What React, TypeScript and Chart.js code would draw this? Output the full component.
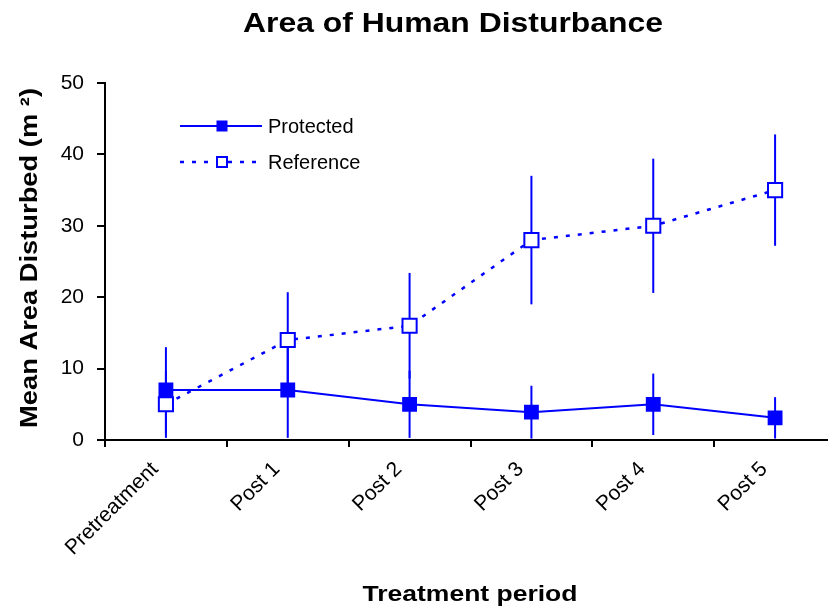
import React, { useEffect, useRef } from 'react';
import { Chart, registerables } from 'chart.js';

Chart.register(...registerables);

const categories = ['Pretreatment', 'Post 1', 'Post 2', 'Post 3', 'Post 4', 'Post 5'];
const protectedMean = [7, 7, 5, 3.9, 5, 3.1];
const protectedErr = [6, 6.7, 4.7, 3.7, 4.3, 2.9];
const referenceMean = [5, 14, 16, 28, 30, 35];
const referenceErr = [4.7, 6.7, 7.4, 9, 9.4, 7.8];
const yMin = 0;
const yMax = 50;
const yStep = 10;

const chartTitle = 'Area of Human Disturbance';
const xTitle = 'Treatment period';
const yTitle = 'Mean Area Disturbed (m \u00B2)';
const seriesNames = ['Protected', 'Reference'];

const BLUE = '#0000FF';
const FONT = '"Liberation Sans", Arial, Helvetica, sans-serif';

function drawStretched(ctx: CanvasRenderingContext2D, text: string, x: number, y: number, rot: number, font: string, targetWidth: number) {
  ctx.save();
  ctx.font = font;
  ctx.fillStyle = '#000';
  ctx.textAlign = 'center';
  ctx.textBaseline = 'alphabetic';
  const w = ctx.measureText(text).width;
  const s = targetWidth / w;
  ctx.translate(x, y);
  ctx.rotate(rot);
  ctx.scale(s, 1);
  ctx.fillText(text, 0, 0);
  ctx.restore();
}

const errorBarPlugin = {
  id: 'errorBars',
  beforeDatasetsDraw(chart: any) {
    const ctx = chart.ctx;
    const xs = chart.scales.x;
    const ys = chart.scales.y;
    const sets = [
      { m: protectedMean, e: protectedErr },
      { m: referenceMean, e: referenceErr },
    ];
    ctx.save();
    ctx.strokeStyle = BLUE;
    ctx.lineWidth = 2;
    sets.forEach((s) => {
      s.m.forEach((v, i) => {
        const x = xs.getPixelForValue(i);
        const lo = Math.max(yMin, v - s.e[i]);
        const hi = v + s.e[i];
        ctx.beginPath();
        ctx.moveTo(x, ys.getPixelForValue(lo));
        ctx.lineTo(x, ys.getPixelForValue(hi));
        ctx.stroke();
      });
    });
    ctx.restore();
  },
};

const textPlugin = {
  id: 'texts',
  afterDraw(chart: any) {
    const ctx = chart.ctx;
    drawStretched(ctx, chartTitle, 453, 32, 0, `bold 28px ${FONT}`, 420);
    drawStretched(ctx, xTitle, 470, 601, 0, `bold 22px ${FONT}`, 215);
    drawStretched(ctx, yTitle, 37, 258, -Math.PI / 2, `bold 24px ${FONT}`, 340);

    // legend
    ctx.save();
    ctx.strokeStyle = BLUE;
    ctx.fillStyle = BLUE;
    ctx.lineWidth = 2;
    ctx.beginPath();
    ctx.moveTo(180, 126);
    ctx.lineTo(262, 126);
    ctx.stroke();
    ctx.fillRect(222 - 5.5, 126 - 5.5, 11, 11);
    ctx.setLineDash([4, 8]);
    ctx.lineWidth = 2.5;
    ctx.beginPath();
    ctx.moveTo(180, 162);
    ctx.lineTo(262, 162);
    ctx.stroke();
    ctx.setLineDash([]);
    ctx.fillStyle = '#fff';
    ctx.fillRect(222 - 5.5, 162 - 5.5, 11, 11);
    ctx.lineWidth = 2;
    ctx.strokeRect(222 - 5, 162 - 5, 10, 10);
    ctx.fillStyle = '#000';
    ctx.font = `20px ${FONT}`;
    ctx.textAlign = 'left';
    ctx.textBaseline = 'middle';
    ctx.fillText(seriesNames[0], 268, 127);
    ctx.fillText(seriesNames[1], 268, 163);
    ctx.restore();
  },
};

export default function App() {
  const ref = useRef<HTMLCanvasElement | null>(null);
  useEffect(() => {
    if (!ref.current) return;
    const chart = new Chart(ref.current, {
      type: 'line',
      data: {
        labels: categories,
        datasets: [
          {
            label: seriesNames[0],
            data: protectedMean,
            borderColor: BLUE,
            backgroundColor: BLUE,
            borderWidth: 2,
            pointStyle: 'rect',
            pointRadius: 10.5,
            pointBorderWidth: 0,
            pointBackgroundColor: BLUE,
            pointBorderColor: BLUE,
            tension: 0,
            fill: false,
          },
          {
            label: seriesNames[1],
            data: referenceMean,
            borderColor: BLUE,
            backgroundColor: '#fff',
            borderWidth: 2.5,
            borderDash: [4, 8],
            pointStyle: 'rect',
            pointRadius: 10,
            pointBorderWidth: 2,
            pointBackgroundColor: '#fff',
            pointBorderColor: BLUE,
            tension: 0,
            fill: false,
          },
        ],
      },
      options: {
        responsive: false,
        animation: false,
        layout: { padding: { top: 83, left: 0, right: 0, bottom: 0 } },
        plugins: {
          legend: { display: false },
          title: { display: false },
          tooltip: { enabled: false },
        },
        scales: {
          x: {
            type: 'category',
            offset: true,
            grid: {
              offset: true,
              drawOnChartArea: false,
              drawTicks: true,
              tickLength: 7,
              color: '#000',
              lineWidth: 2,
            },
            border: { display: true, color: '#000', width: 2 },
            ticks: {
              minRotation: 45,
              maxRotation: 45,
              autoSkip: false,
              color: '#000',
              padding: 10,
              labelOffset: -11,
              font: { family: FONT, size: 21 },
            },
            afterFit: (s: any) => {
              s.height = 168;
            },
          },
          y: {
            min: yMin,
            max: yMax,
            ticks: {
              stepSize: yStep,
              color: '#000',
              padding: 13,
              font: { family: FONT, size: 21 },
            },
            grid: {
              drawOnChartArea: false,
              drawTicks: true,
              tickLength: 8,
              color: '#000',
              lineWidth: 2,
            },
            border: { display: true, color: '#000', width: 2 },
            afterFit: (s: any) => {
              s.width = 105;
            },
          },
        },
      },
      plugins: [errorBarPlugin, textPlugin],
    });
    return () => chart.destroy();
  }, []);
  return (
    <div style={{ position: 'fixed', left: 0, top: 0, width: 828, height: 608, overflow: 'hidden', background: '#fff' }}>
      <canvas ref={ref} width={848} height={608} style={{ display: 'block', width: 848, height: 608 }} />
    </div>
  );
}
